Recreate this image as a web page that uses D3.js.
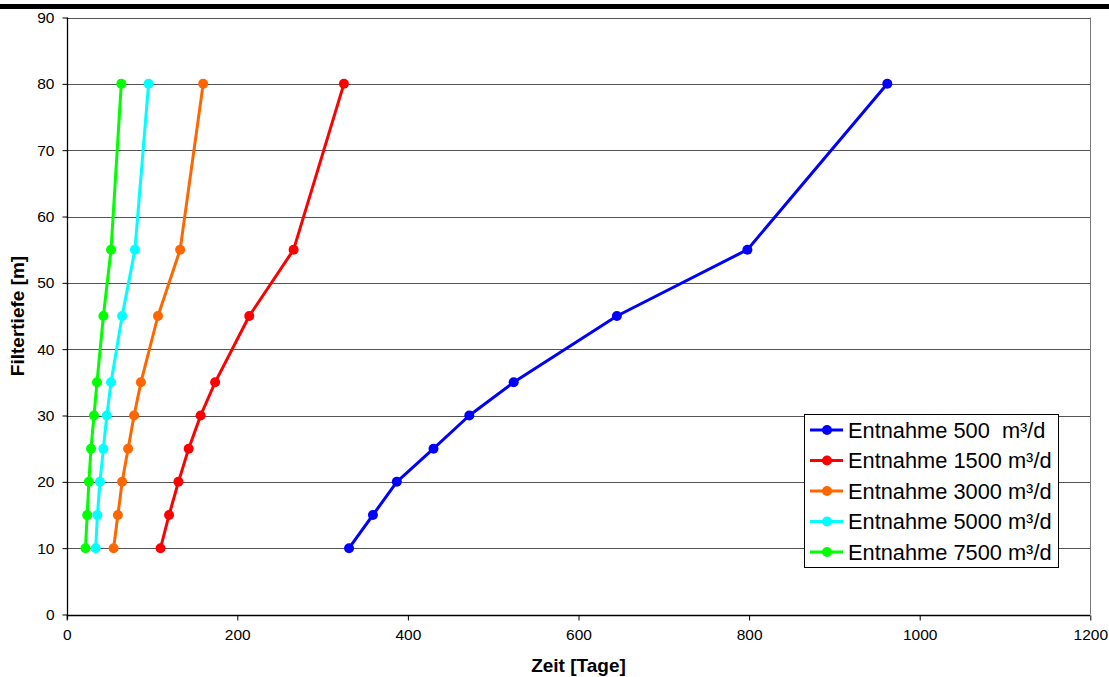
<!DOCTYPE html>
<html>
<head>
<meta charset="utf-8">
<script src="https://cdn.jsdelivr.net/npm/d3@7"></script>
<style>
  html, body { margin: 0; padding: 0; background: #fff; }
  svg { display: block; font-family: "Liberation Sans", Arial, sans-serif; }
</style>
</head>
<body>
<svg id="chart" width="1109" height="677"></svg>
<script>
// ---- data ----
const depths = [10, 15, 20, 25, 30, 35, 45, 55, 80];
const seriesNames = ["Entnahme 500  m³/d", "Entnahme 1500 m³/d", "Entnahme 3000 m³/d", "Entnahme 5000 m³/d", "Entnahme 7500 m³/d"];
const seriesColors = ["#0000ff", "#ff0000", "#ff6600", "#00ffff", "#00ff00"];
const time500  = [331, 359, 387, 430, 472, 524, 645, 798, 962];
const time1500 = [110, 120, 131, 143, 157, 174, 214, 266, 325];
const time3000 = [55, 60, 65, 72, 79, 87, 107, 133, 160];
const time5000 = [34, 36, 39, 43, 47, 52, 65, 80, 96];
const time7500 = [22, 24, 26, 28.5, 32, 35.5, 43, 52, 64];
const xTicks = [0, 200, 400, 600, 800, 1000, 1200];
const yTicks = [0, 10, 20, 30, 40, 50, 60, 70, 80, 90];
const xTitle = "Zeit [Tage]";
const yTitle = "Filtertiefe [m]";

const allSeries = [time500, time1500, time3000, time5000, time7500];

// ---- layout ----
const svg = d3.select("#chart");
const pL = 66.7, pR = 1090.3, pT = 17.5, pB = 614.5;
const x = d3.scaleLinear().domain([0, 1200]).range([pL, pR]);
const y = d3.scaleLinear().domain([0, 90]).range([pB, pT]);

// top black bar
svg.append("rect").attr("x", 0).attr("y", 4).attr("width", 1109).attr("height", 5).attr("fill", "#000");

// gridlines
svg.append("g").selectAll("line").data(yTicks.filter(d => d > 0)).join("line")
  .attr("x1", pL).attr("x2", pR)
  .attr("y1", d => Math.round(y(d)) + 0.5).attr("y2", d => Math.round(y(d)) + 0.5)
  .attr("stroke", "#555").attr("stroke-width", 1);
// right border
svg.append("line").attr("x1", Math.round(pR) + 0.5).attr("x2", Math.round(pR) + 0.5)
  .attr("y1", y(90)).attr("y2", y(0)).attr("stroke", "#777").attr("stroke-width", 1);

// axes
const xAxis = d3.axisBottom(x).tickValues(xTicks).tickSize(5).tickPadding(8).tickFormat(d3.format("d"));
const gx = svg.append("g").attr("transform", `translate(0,${Math.round(pB) + 0.5})`).call(xAxis);
gx.select(".domain").attr("stroke", "#000").attr("stroke-width", 1.3).attr("d", `M${pL},0H${pR}`);
gx.selectAll(".tick line").attr("stroke", "#000");
gx.selectAll(".tick text").attr("font-size", 15.5).attr("fill", "#000").attr("font-family", "Liberation Sans, Arial, sans-serif");

const yAxis = d3.axisLeft(y).tickValues(yTicks).tickSize(5).tickPadding(8).tickFormat(d3.format("d"));
const gy = svg.append("g").attr("transform", `translate(${Math.round(pL) + 0.5},0)`).call(yAxis);
gy.select(".domain").attr("stroke", "#000").attr("stroke-width", 1.3).attr("d", `M0,${pT}V${pB + 5}`);
gy.selectAll(".tick line").attr("stroke", "#000");
gy.selectAll(".tick text").attr("font-size", 15.5).attr("fill", "#000").attr("font-family", "Liberation Sans, Arial, sans-serif");

// titles
svg.append("text").attr("x", (pL + pR) / 2).attr("y", 672)
  .attr("text-anchor", "middle").attr("font-size", 19).attr("font-weight", "bold").text(xTitle);
svg.append("text").attr("transform", `translate(24,${(pT + pB) / 2}) rotate(-90)`)
  .attr("text-anchor", "middle").attr("font-size", 19).attr("font-weight", "bold").text(yTitle);

// series
const line = d3.line().x(d => x(d[0])).y(d => y(d[1]));
allSeries.forEach((vals, i) => {
  const pts = vals.map((v, j) => [v, depths[j]]);
  const g = svg.append("g");
  g.append("path").attr("d", line(pts)).attr("fill", "none")
    .attr("stroke", seriesColors[i]).attr("stroke-width", 3).attr("stroke-linejoin", "round");
  g.selectAll("circle").data(pts).join("circle")
    .attr("cx", d => x(d[0])).attr("cy", d => y(d[1])).attr("r", 5).attr("fill", seriesColors[i]);
});

// legend
const lg = svg.append("g");
lg.append("rect").attr("x", 804.5).attr("y", 414.5).attr("width", 254).attr("height", 153)
  .attr("fill", "#fff").attr("stroke", "#000").attr("stroke-width", 1);
seriesNames.forEach((name, i) => {
  const cy = 430 + i * 30.5;
  lg.append("line").attr("x1", 810).attr("x2", 843).attr("y1", cy).attr("y2", cy)
    .attr("stroke", seriesColors[i]).attr("stroke-width", 3);
  lg.append("circle").attr("cx", 827).attr("cy", cy).attr("r", 5).attr("fill", seriesColors[i]);
  lg.append("text").attr("x", 848).attr("y", cy + 7.5).attr("font-size", 21.8)
    .attr("fill", "#000").style("white-space", "pre").text(name);
});
</script>
</body>
</html>
